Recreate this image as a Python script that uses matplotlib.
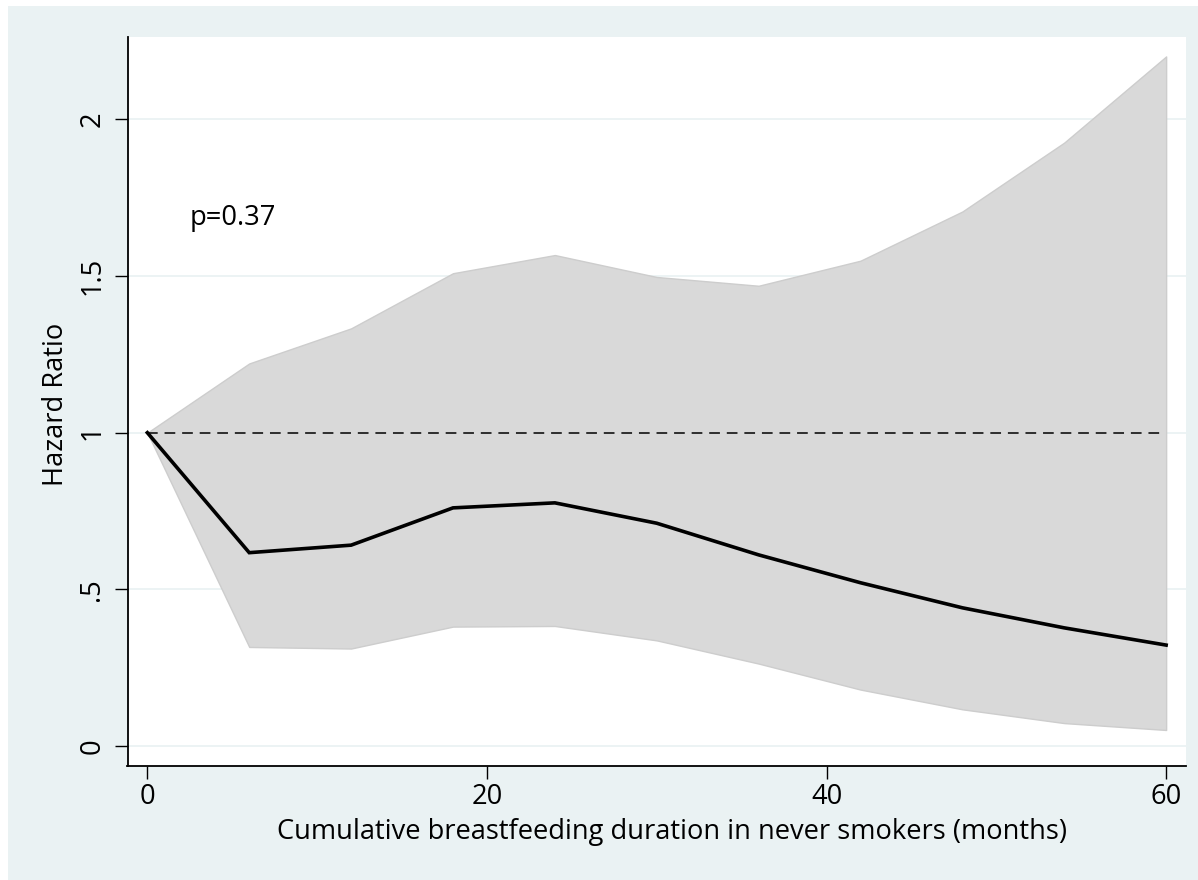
import matplotlib
matplotlib.use("Agg")
import matplotlib.pyplot as plt
from matplotlib.patches import Rectangle

# ---- data ----
months = [0, 6, 12, 18, 24, 30, 36, 42, 48, 54, 60]
hazard_ratio = [1.0, 0.617, 0.641, 0.760, 0.776, 0.711, 0.610, 0.521, 0.441, 0.377, 0.322]
ci_upper = [1.0, 1.221, 1.333, 1.509, 1.567, 1.497, 1.469, 1.549, 1.706, 1.926, 2.201]
ci_lower = [1.0, 0.316, 0.311, 0.381, 0.383, 0.337, 0.263, 0.180, 0.117, 0.073, 0.051]
reference_value = 1.0
x_ticks = [0, 20, 40, 60]
y_ticks = [0, 0.5, 1, 1.5, 2]
y_tick_labels = ["0", ".5", "1", "1.5", "2"]
x_label = "Cumulative breastfeeding duration in never smokers (months)"
y_label = "Hazard Ratio"
annotation = "p=0.37"

plt.rcParams["font.family"] = ["Open Sans", "DejaVu Sans"]

W, H = 1198, 880
fig = plt.figure(figsize=(W / 100, H / 100), dpi=100)
fig.patch.set_facecolor("white")
bg = "#EAF2F3"
fig.patches.append(Rectangle((8 / W, 0), 1 - 8 / W, 1 - 6 / H,
                             transform=fig.transFigure, facecolor=bg,
                             edgecolor="none", zorder=-10))

left, right = 127.5 / W, 1186 / W
bottom, top = (H - 765.7) / H, (H - 36.7) / H
ax = fig.add_axes([left, bottom, right - left, top - bottom])
ax.set_facecolor("white")

ax.set_xlim(-1.17, 61.17)
ax.set_ylim(-0.063, 2.264)

for yv in y_ticks:
    ax.axhline(yv, color=bg, lw=1.3, zorder=0)

ax.fill_between(months, ci_lower, ci_upper, facecolor="#D9D9D9",
                edgecolor="#CDCDCD", lw=1.0, zorder=1)
ax.plot([months[0], months[-1]], [reference_value, reference_value],
        color="black", lw=1.1, dashes=(7, 4.5), zorder=2)
ax.plot(months, hazard_ratio, color="black", lw=2.6, zorder=3,
        solid_joinstyle="miter")

fs = 19.6
ax.text(2.48, 1.663, annotation, fontsize=fs, ha="left", va="baseline",
        color="black")

for s in ["top", "right"]:
    ax.spines[s].set_visible(False)
for s in ["left", "bottom"]:
    ax.spines[s].set_linewidth(1.3)
    ax.spines[s].set_color("black")

ax.set_xticks(x_ticks)
ax.set_xticklabels([str(v) for v in x_ticks])
ax.set_yticks(y_ticks)
ax.set_yticklabels(y_tick_labels, rotation=90, va="center")
ax.tick_params(axis="both", direction="out", length=9.3, width=1.0,
               labelsize=fs, colors="black")
ax.tick_params(axis="x", pad=3)
ax.tick_params(axis="y", pad=6)

ax.set_xlabel(x_label, fontsize=fs, labelpad=1)
ax.set_ylabel(y_label, fontsize=fs, labelpad=7)
ax.xaxis.set_label_coords(0.514, -0.072)
ax.yaxis.set_label_coords(-0.0545, 0.495)

fig.savefig("out.png", dpi=100, facecolor=fig.get_facecolor())
